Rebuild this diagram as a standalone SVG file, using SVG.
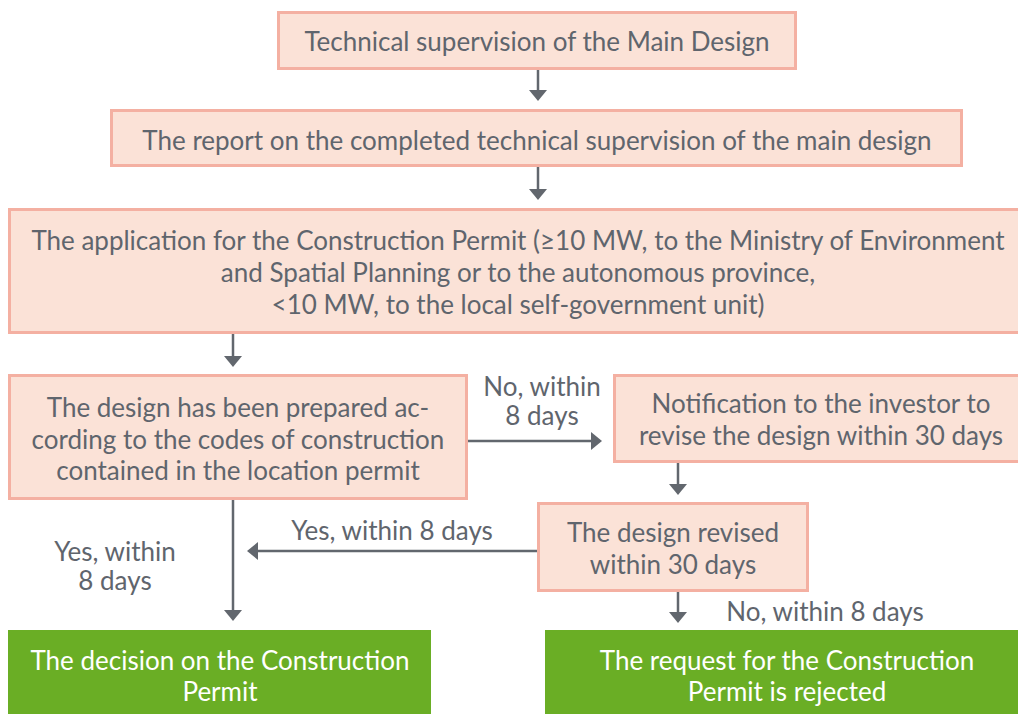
<svg xmlns="http://www.w3.org/2000/svg" width="1018" height="714" viewBox="0 0 1018 714">
<style>
.box{fill:#FBE2D7;stroke:#F4B0A2;stroke-width:3}
.end{fill:#6AAE25}
.t{font-family:Lato,"Open Sans","Liberation Sans",sans-serif;font-size:26px;fill:#5F656D;text-anchor:middle}
.w{fill:#FFFFFF}
.c{stroke:#62676E;stroke-width:2.5;fill:none;marker-end:url(#ah)}
</style>
<defs>
<marker id="ah" markerUnits="userSpaceOnUse" markerWidth="12" markerHeight="18" refX="8" refY="9" orient="auto">
<path d="M0,0 L11,9 L0,18 Z" fill="#62676E"/>
</marker>
</defs>
<rect width="1018" height="714" fill="#FFFFFF"/>
<g id="connectors">
<line class="c" x1="538" y1="70" x2="538" y2="98"/>
<line class="c" x1="538" y1="167" x2="538" y2="197"/>
<line class="c" x1="233" y1="334" x2="233" y2="364"/>
<line class="c" x1="468" y1="441" x2="599" y2="441"/>
<line class="c" x1="678" y1="463" x2="678" y2="492"/>
<line class="c" x1="678" y1="592" x2="678" y2="620"/>
<line class="c" x1="233" y1="500" x2="233" y2="618"/>
<line class="c" x1="537" y1="551" x2="250" y2="551"/>
<text class="t" x="542" y="396">No, within</text>
<text class="t" x="542" y="425">8 days</text>
<text class="t" x="392" y="540">Yes, within 8 days</text>
<text class="t" x="115" y="561">Yes, within</text>
<text class="t" x="115" y="590">8 days</text>
<text class="t" x="825" y="621">No, within 8 days</text>
</g>
<g id="n1">
<rect class="box" x="278.5" y="12.5" width="517" height="56"/>
<text class="t" x="537" y="51">Technical supervision of the Main Design</text>
</g>
<g id="n2">
<rect class="box" x="111.5" y="110.5" width="850" height="55"/>
<text class="t" x="537" y="150">The report on the completed technical supervision of the main design</text>
</g>
<g id="n3">
<rect class="box" x="9.5" y="209.5" width="1020" height="123"/>
<text class="t" x="518" y="250">The application for the Construction Permit (≥10 MW, to the Ministry of Environment</text>
<text class="t" x="518" y="282">and Spatial Planning or to the autonomous province,</text>
<text class="t" x="518" y="314">&lt;10 MW, to the local self-government unit)</text>
</g>
<g id="n4">
<rect class="box" x="9.5" y="375.5" width="457" height="123"/>
<text class="t" x="238" y="417">The design has been prepared ac-</text>
<text class="t" x="238" y="448.5">cording to the codes of construction</text>
<text class="t" x="238" y="480">contained in the location permit</text>
</g>
<g id="n5">
<rect class="box" x="614.5" y="375.5" width="415" height="86"/>
<text class="t" x="821" y="413">Notification to the investor to</text>
<text class="t" x="821" y="445">revise the design within 30 days</text>
</g>
<g id="n6">
<rect class="box" x="538.5" y="503.5" width="269" height="87"/>
<text class="t" x="673" y="542">The design revised</text>
<text class="t" x="673" y="574">within 30 days</text>
</g>
<g id="n7">
<rect class="end" x="8" y="630" width="423" height="90"/>
<text class="t w" x="220" y="670">The decision on the Construction</text>
<text class="t w" x="220" y="701">Permit</text>
</g>
<g id="n8">
<rect class="end" x="545" y="630" width="485" height="90"/>
<text class="t w" x="787" y="670">The request for the Construction</text>
<text class="t w" x="787" y="701">Permit is rejected</text>
</g>
</svg>
